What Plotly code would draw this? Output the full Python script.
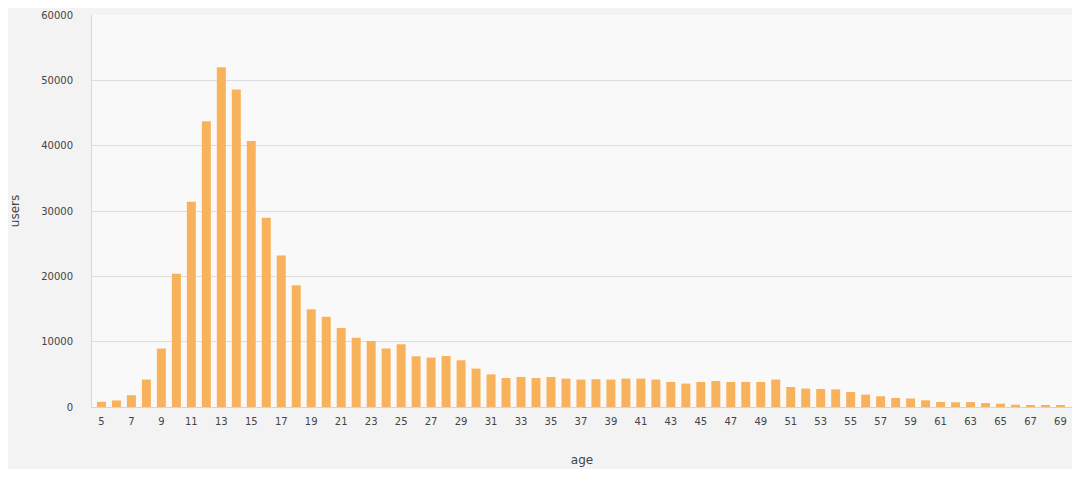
import plotly.graph_objects as go

ages = list(range(5, 70))
users = [800, 1000, 1800, 4200, 8950, 20400, 31400, 43750, 52000, 48600,
         40700, 28950, 23200, 18650, 14950, 13800, 12100, 10600, 10100, 8950,
         9600, 7760, 7560, 7800, 7150, 5880, 5000, 4440, 4600, 4440,
         4600, 4350, 4200, 4250, 4200, 4350, 4350, 4200, 3830, 3580,
         3830, 3980, 3830, 3830, 3830, 4200, 3060, 2820, 2750, 2700,
         2300, 1900, 1640, 1380, 1300, 1030, 770, 720, 750, 600,
         500, 350, 300, 250, 200]
x_ticks = list(range(5, 70, 2))
y_ticks = [0, 10000, 20000, 30000, 40000, 50000, 60000]

fig = go.Figure(go.Bar(x=ages, y=users, marker=dict(color="#f9b25c", line=dict(width=0)),
                       width=0.6))

font = "DejaVu Sans, Verdana, sans-serif"
fig.update_layout(
    width=1064, height=461,
    margin=dict(l=84, r=0, t=7, b=62),
    paper_bgcolor="#f3f3f3",
    plot_bgcolor="#f9f9f9",
    showlegend=False,
    font=dict(family=font, size=9, color="#444444"),
    xaxis=dict(
        range=[4.37, 69.77],
        tickmode="array", tickvals=x_ticks, ticktext=[str(t) for t in x_ticks],
        showgrid=False, zeroline=False,
        showline=True, linecolor="#e6d2b8", linewidth=1,
        ticks="", ticklen=0, ticklabelstandoff=5,
        tickfont=dict(size=10, color="#444444"),
        title=dict(text="age", font=dict(size=12, color="#444444"), standoff=29),
    ),
    yaxis=dict(
        range=[0, 60000],
        tickmode="array", tickvals=y_ticks, ticktext=[str(t) for t in y_ticks],
        showgrid=True, gridcolor="#dedede", gridwidth=1,
        zeroline=False,
        showline=True, linecolor="#d8d8d8", linewidth=1,
        ticks="", ticklen=0, ticklabelstandoff=16,
        tickfont=dict(size=10, color="#444444"),
        title=dict(text="users", font=dict(size=12, color="#444444"), standoff=20),
    ),
)

fig.write_html("out.html")
